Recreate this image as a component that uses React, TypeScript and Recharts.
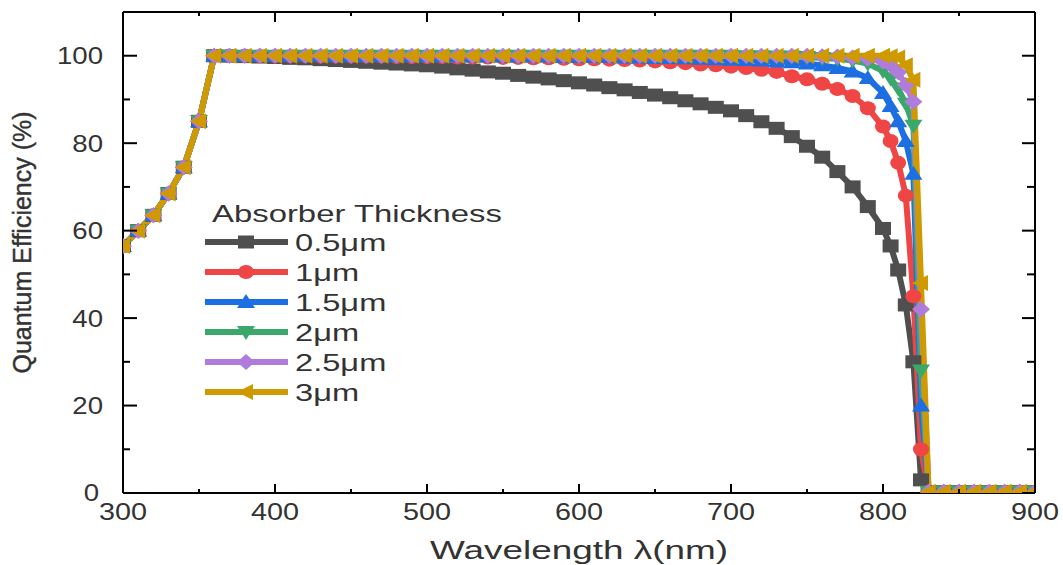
import React from 'react';
import { LineChart, Line, XAxis, YAxis, Legend } from 'recharts';

const wavelengths = [
  300, 310, 320, 330, 340, 350, 360, 370, 380, 390, 400, 410, 420, 430, 440, 450, 460, 470, 480, 490,
  500, 510, 520, 530, 540, 550, 560, 570, 580, 590, 600, 610, 620, 630, 640, 650, 660, 670, 680, 690,
  700, 710, 720, 730, 740, 750, 760, 770, 780, 790, 800, 805, 810, 815, 820, 825, 830,
  840, 850, 860, 870, 880, 890, 900,
];

const qe05 = [
  56.5, 60, 63.5, 68.5, 74.5, 85, 100, 99.9, 99.8, 99.7, 99.6, 99.4, 99.3, 99.1, 98.9, 98.7, 98.5, 98.3, 98.1, 97.9,
  97.7, 97.4, 97.0, 96.7, 96.3, 96.0, 95.5, 95.1, 94.7, 94.3, 93.8, 93.3, 92.7, 92.2, 91.6, 91.0, 90.4, 89.7, 89.0, 88.2,
  87.4, 86.3, 84.9, 83.4, 81.5, 79.3, 76.8, 73.5, 70.0, 65.5, 60.5, 56.5, 51, 43, 30, 3, 0.3,
  0.3, 0.3, 0.3, 0.3, 0.3, 0.3, 0.3,
];

const qe10 = [
  56.5, 60, 63.5, 68.5, 74.5, 85, 100, 100, 100, 99.9, 99.9, 99.9, 99.9, 99.8, 99.8, 99.8, 99.8, 99.8, 99.7, 99.7,
  99.7, 99.7, 99.6, 99.6, 99.6, 99.5, 99.5, 99.4, 99.4, 99.3, 99.2, 99.2, 99.1, 99.0, 98.9, 98.7, 98.5, 98.3, 98.0, 97.8,
  97.5, 97.2, 96.8, 96.3, 95.3, 94.6, 93.6, 92.4, 90.8, 88.0, 83.8, 80.5, 75.5, 68, 45, 10, 0.3,
  0.3, 0.3, 0.3, 0.3, 0.3, 0.3, 0.3,
];

const qe15 = [
  56.5, 60, 63.5, 68.5, 74.5, 85, 100, 100, 100, 100, 100, 100, 100, 100, 99.9, 99.9, 99.9, 99.9, 99.9, 99.9,
  99.9, 99.9, 99.9, 99.8, 99.8, 99.8, 99.8, 99.8, 99.8, 99.7, 99.7, 99.7, 99.7, 99.6, 99.6, 99.5, 99.5, 99.4, 99.3, 99.2,
  99.1, 99.0, 98.9, 98.7, 98.5, 98.2, 97.8, 97.2, 96.4, 94.9, 91.5, 88.5, 85, 80.5, 73, 20, 0.3,
  0.3, 0.3, 0.3, 0.3, 0.3, 0.3, 0.3,
];

const qe20 = [
  56.5, 60, 63.5, 68.5, 74.5, 85, 100, 100, 100, 100, 100, 100, 100, 100, 100, 100, 100, 100, 100, 100,
  100, 100, 100, 100, 100, 100, 100, 100, 100, 100, 100, 100, 100, 100, 100, 100, 100, 100, 100, 100,
  100, 99.9, 99.9, 99.8, 99.8, 99.7, 99.5, 99.3, 98.9, 98.2, 96.5, 94.8, 92.5, 89, 84, 28, 0.3,
  0.3, 0.3, 0.3, 0.3, 0.3, 0.3, 0.3,
];

const qe25 = [
  56.5, 60, 63.5, 68.5, 74.5, 85, 100, 100, 100, 100, 100, 100, 100, 100, 100, 100, 100, 100, 100, 100,
  100, 100, 100, 100, 100, 100, 100, 100, 100, 100, 100, 100, 100, 100, 100, 100, 100, 100, 100, 100,
  100, 100, 100, 100, 100, 100, 99.9, 99.8, 99.6, 99.3, 98.7, 97.8, 96.2, 93.3, 89.5, 42, 0.3,
  0.3, 0.3, 0.3, 0.3, 0.3, 0.3, 0.3,
];

const qe30 = [
  56.5, 60, 63.5, 68.5, 74.5, 85, 100, 100, 100, 100, 100, 100, 100, 100, 100, 100, 100, 100, 100, 100,
  100, 100, 100, 100, 100, 100, 100, 100, 100, 100, 100, 100, 100, 100, 100, 100, 100, 100, 100, 100,
  100, 100, 100, 100, 100, 100, 100, 100, 100, 100, 100, 99.9, 99.6, 97.8, 94.5, 48, 0.3,
  0.3, 0.3, 0.3, 0.3, 0.3, 0.3, 0.3,
];

const seriesNames = ['0.5μm', '1μm', '1.5μm', '2μm', '2.5μm', '3μm'];
const seriesKeys = ['t05', 't10', 't15', 't20', 't25', 't30'];
const seriesValues = [qe05, qe10, qe15, qe20, qe25, qe30];
const seriesColors = ['#4f4f4f', '#ef4545', '#1c6fe3', '#3aa86a', '#b07cdc', '#cf9a00'];
const seriesShapes = ['square', 'circle', 'triangleUp', 'triangleDown', 'diamond', 'triangleLeft'];

const xTicks = [300, 350, 400, 450, 500, 550, 600, 650, 700, 750, 800, 850, 900];
const yTicks = [0, 10, 20, 30, 40, 50, 60, 70, 80, 90, 100];

const legendTitle = 'Absorber Thickness';
const xTitle = 'Wavelength λ(nm)';
const yTitle = 'Quantum Efficiency (%)';

const data = wavelengths.map((w, i) => {
  const row: any = { w };
  seriesKeys.forEach((k, s) => {
    row[k] = seriesValues[s][i];
  });
  return row;
});

const FONT = '"Liberation Sans", Arial, sans-serif';
const TEXT = '#333';

function SText({ x, y, sx, anchor = 'start', size, children }: any) {
  return (
    <text
      transform={`translate(${x} ${y}) scale(${sx} 1)`}
      x={0}
      y={0}
      textAnchor={anchor}
      fontSize={size}
      fontFamily={FONT}
      fill={TEXT}
    >
      {children}
    </text>
  );
}

function Marker({ shape, cx, cy, color }: any) {
  if (cx == null || cy == null || isNaN(cx) || isNaN(cy)) return null;
  switch (shape) {
    case 'square':
      return <rect x={cx - 8} y={cy - 6.5} width={16} height={13} fill={color} />;
    case 'circle':
      return <ellipse cx={cx} cy={cy} rx={8} ry={7} fill={color} />;
    case 'triangleUp':
      return <polygon points={`${cx},${cy - 8} ${cx + 9},${cy + 6} ${cx - 9},${cy + 6}`} fill={color} />;
    case 'triangleDown':
      return <polygon points={`${cx - 9},${cy - 6} ${cx + 9},${cy - 6} ${cx},${cy + 8}`} fill={color} />;
    case 'diamond':
      return <polygon points={`${cx},${cy - 8} ${cx + 9},${cy} ${cx},${cy + 8} ${cx - 9},${cy}`} fill={color} />;
    case 'triangleLeft':
    default:
      return <polygon points={`${cx - 9},${cy} ${cx + 7},${cy - 8} ${cx + 7},${cy + 8}`} fill={color} />;
  }
}

const BottomTick = (props: any) => {
  const { x, y, payload } = props;
  const v = payload.value;
  const major = v % 100 === 0;
  return (
    <g>
      <line x1={x} y1={y} x2={x} y2={y - (major ? 9 : 4)} stroke="#000" strokeWidth={2} />
      {major && (
        <SText x={x} y={y + 27} sx={1.2} anchor="middle" size={24}>
          {v}
        </SText>
      )}
    </g>
  );
};

const TopTick = (props: any) => {
  const { x, y, payload } = props;
  const major = payload.value % 100 === 0;
  return <line x1={x} y1={y} x2={x} y2={y + (major ? 10 : 4)} stroke="#000" strokeWidth={2} />;
};

const LeftTick = (props: any) => {
  const { x, y, payload } = props;
  const v = payload.value;
  const major = v % 20 === 0;
  return (
    <g>
      <line x1={x} y1={y} x2={x + (major ? 14 : 7)} y2={y} stroke="#000" strokeWidth={2} />
      {major && (
        <SText x={x - (v === 0 ? 24 : 20)} y={y + (v === 0 ? 7.5 : 8.5)} sx={1.15} anchor="end" size={24}>
          {v}
        </SText>
      )}
    </g>
  );
};

const RightTick = (props: any) => {
  const { x, y, payload } = props;
  const major = payload.value % 20 === 0;
  return <line x1={x} y1={y} x2={x - (major ? 13 : 8)} y2={y} stroke="#000" strokeWidth={2} />;
};

const XTitle = (props: any) => {
  const vb = props.viewBox || {};
  const cx = vb.x + vb.width / 2;
  return (
    <SText x={cx} y={vb.y + 66} sx={1.42} anchor="middle" size={26}>
      {xTitle}
    </SText>
  );
};

const YTitle = (props: any) => {
  const vb = props.viewBox || {};
  const cy = vb.y + vb.height / 2 - 10;
  const x = 31;
  return (
    <text
      x={x}
      y={cy}
      transform={`rotate(-90, ${x}, ${cy})`}
      textAnchor="middle"
      fontSize={25}
      fontFamily={FONT}
      fill={TEXT}
      stroke={TEXT}
      strokeWidth={0.4}
    >
      {yTitle}
    </text>
  );
};

const LEG_LEFT = 190;
const LEG_TOP = 190;

const LegendBox = () => (
  <svg width={340} height={220} style={{ display: 'block', overflow: 'visible' }}>
    <SText x={212 - LEG_LEFT} y={222 - LEG_TOP} sx={1.43} size={23}>
      {legendTitle}
    </SText>
    {seriesNames.map((name, i) => {
      const cy = 242 - LEG_TOP + i * 30;
      return (
        <g key={name}>
          <line x1={205 - LEG_LEFT} x2={288 - LEG_LEFT} y1={cy} y2={cy} stroke={seriesColors[i]} strokeWidth={6} />
          <Marker shape={seriesShapes[i]} cx={246 - LEG_LEFT} cy={cy} color={seriesColors[i]} />
          <SText x={295 - LEG_LEFT} y={cy + 8.5} sx={1.36} size={24}>
            {name}
          </SText>
        </g>
      );
    })}
  </svg>
);

export default function App() {
  return (
    <div style={{ position: 'absolute', left: 0, top: 0, width: 1063, height: 565, background: '#fff' }}>
      <LineChart width={1063} height={565} data={data} margin={{ top: 0, right: 0, bottom: 0, left: 0 }}>
        <XAxis
          xAxisId="b"
          dataKey="w"
          type="number"
          domain={[300, 900]}
          ticks={xTicks}
          interval={0}
          allowDataOverflow
          height={72}
          tickSize={0}
          tickMargin={0}
          tick={<BottomTick />}
          axisLine={{ stroke: '#000', strokeWidth: 2 }}
          label={{ content: <XTitle /> }}
        />
        <XAxis
          xAxisId="t"
          dataKey="w"
          orientation="top"
          type="number"
          domain={[300, 900]}
          ticks={xTicks}
          interval={0}
          allowDataOverflow
          height={12}
          tickSize={0}
          tickMargin={0}
          tick={<TopTick />}
          axisLine={{ stroke: '#000', strokeWidth: 2 }}
        />
        <YAxis
          yAxisId="l"
          type="number"
          domain={[0, 110]}
          ticks={yTicks}
          interval={0}
          allowDataOverflow
          width={123}
          tickSize={0}
          tickMargin={0}
          tick={<LeftTick />}
          axisLine={{ stroke: '#000', strokeWidth: 2 }}
          label={{ content: <YTitle /> }}
        />
        <YAxis
          yAxisId="r"
          orientation="right"
          type="number"
          domain={[0, 110]}
          ticks={yTicks}
          interval={0}
          allowDataOverflow
          width={28}
          tickSize={0}
          tickMargin={0}
          tick={<RightTick />}
          axisLine={{ stroke: '#000', strokeWidth: 2 }}
        />
        <Legend
          layout="vertical"
          align="center"
          verticalAlign="middle"
          content={<LegendBox />}
          wrapperStyle={{ left: LEG_LEFT, top: LEG_TOP, width: 340, height: 220 }}
        />
        {seriesKeys.map((k, i) => (
          <Line
            key={k}
            xAxisId="b"
            yAxisId="l"
            type="linear"
            dataKey={k}
            name={seriesNames[i]}
            stroke={seriesColors[i]}
            strokeWidth={6}
            isAnimationActive={false}
            activeDot={false}
            dot={(p: any) => (
              <Marker key={`${k}-${p.index}`} shape={seriesShapes[i]} cx={p.cx} cy={p.cy} color={seriesColors[i]} />
            )}
          />
        ))}
      </LineChart>
    </div>
  );
}
